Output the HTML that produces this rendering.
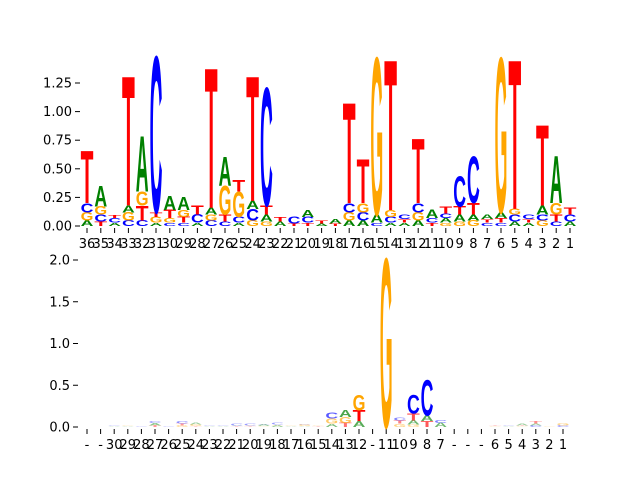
<!DOCTYPE html>
<html><head><meta charset="utf-8"><style>
html,body{margin:0;padding:0;background:#fff;}
svg{display:block;font-family:"DejaVu Sans","Liberation Sans",sans-serif;}
</style></head><body>
<svg id="chart" width="640" height="480" viewBox="0 0 640 480">
<g id="top"></g>
<g id="bot"></g>
</svg>
<script>
// Top panel data: positions and stacked letter heights (bottom->top)
const topLabels = ["36","35","34","33","32","31","30","29","28","27","26","25","24","23","22","21","20","19","18","17","16","15","14","13","12","11","10","9","8","7","6","5","4","3","2","1"];
const topStacks = [
 [["A",0.05],["G",0.07],["C",0.08],["T",0.45]],
 [["T",0.04],["C",0.06],["G",0.07],["A",0.18]],
 [["A",0.03],["C",0.04],["T",0.03]],
 [["C",0.05],["G",0.07],["A",0.06],["T",1.12]],
 [["C",0.05],["T",0.13],["G",0.12],["A",0.48]],
 [["A",0.03],["G",0.05],["T",0.04],["C",1.35]],
 [["C",0.03],["G",0.04],["T",0.07],["A",0.12]],
 [["C",0.03],["T",0.05],["G",0.06],["A",0.11]],
 [["A",0.03],["C",0.07],["T",0.08]],
 [["C",0.05],["G",0.05],["A",0.06],["T",1.21]],
 [["C",0.04],["T",0.06],["G",0.25],["A",0.25]],
 [["A",0.03],["C",0.05],["G",0.22],["T",0.10]],
 [["G",0.05],["C",0.10],["A",0.07],["T",1.08]],
 [["G",0.04],["A",0.06],["T",0.08],["C",1.02]],
 [["A",0.04],["T",0.04]],
 [["T",0.02],["C",0.06]],
 [["T",0.03],["C",0.05],["A",0.06]],
 [["A",0.02],["T",0.03]],
 [["T",0.02],["A",0.04]],
 [["A",0.05],["G",0.07],["C",0.08],["T",0.87]],
 [["A",0.05],["C",0.07],["G",0.08],["T",0.38]],
 [["C",0.03],["A",0.07],["G",1.36]],
 [["A",0.03],["C",0.05],["G",0.06],["T",1.30]],
 [["A",0.03],["T",0.03],["C",0.04]],
 [["A",0.05],["G",0.07],["C",0.08],["T",0.56]],
 [["T",0.03],["C",0.04],["A",0.07]],
 [["G",0.03],["A",0.04],["C",0.04],["T",0.06]],
 [["G",0.04],["A",0.06],["T",0.07],["C",0.26]],
 [["G",0.05],["A",0.05],["T",0.10],["C",0.40]],
 [["C",0.03],["T",0.03],["A",0.04]],
 [["C",0.03],["T",0.04],["A",0.05],["G",1.34]],
 [["A",0.04],["C",0.06],["G",0.05],["T",1.29]],
 [["A",0.03],["T",0.03],["C",0.04]],
 [["G",0.05],["C",0.05],["A",0.08],["T",0.70]],
 [["C",0.04],["T",0.06],["G",0.10],["A",0.41]],
 [["A",0.04],["C",0.06],["T",0.06]]
];
const topTicks = [0,0.25,0.5,0.75,1.0,1.25];
const topTickLabels = ["0.00","0.25","0.50","0.75","1.00","1.25"];

// Bottom panel data
const botLabels = ["-","-","30","29","28","27","26","25","24","23","22","21","20","19","18","17","16","15","14","13","12","-","11","10","9","8","7","-","-","-","6","5","4","3","2","1"];
const botStacks = [
 [],[],
 [["A",0.01],["C",0.01]],
 [["A",0.01],["G",0.01]],
 [["C",0.01]],
 [["T",0.02],["A",0.03],["C",0.02]],
 [["C",0.01]],
 [["G",0.02],["T",0.02],["C",0.03]],
 [["T",0.01],["G",0.02],["A",0.02]],
 [["A",0.01],["C",0.01]],
 [["A",0.01],["C",0.01]],
 [["T",0.01],["A",0.01],["C",0.02]],
 [["T",0.01],["G",0.01],["C",0.02]],
 [["G",0.01],["A",0.02],["C",0.01]],
 [["A",0.02],["G",0.01],["C",0.02]],
 [["A",0.01],["G",0.01]],
 [["A",0.01],["G",0.02],["C",0.01]],
 [["T",0.01],["G",0.01]],
 [["A",0.04],["G",0.06],["C",0.07]],
 [["T",0.05],["G",0.07],["A",0.08]],
 [["A",0.07],["T",0.13],["G",0.18]],
 [],
 [["G",2.0]],
 [["G",0.04],["T",0.04],["C",0.04]],
 [["G",0.03],["A",0.05],["T",0.08],["C",0.22]],
 [["T",0.07],["A",0.07],["C",0.42]],
 [["A",0.05],["C",0.04]],
 [],[],[],
 [["G",0.01],["T",0.01]],
 [["A",0.01],["C",0.01]],
 [["G",0.01],["T",0.01],["A",0.02]],
 [["C",0.02],["A",0.02],["T",0.03]],
 [["G",0.01]],
 [["C",0.02],["G",0.03]]
];
const botTicks = [0,0.5,1.0,1.5,2.0];
const botTickLabels = ["0.0","0.5","1.0","1.5","2.0"];

const COLORS = {A:"#008000",C:"#0000ff",G:"#ffa500",T:"#ff0000"};
const NS = "http://www.w3.org/2000/svg";
const CAP = 68.8;

function drawPanel(g, labels, stacks, ticks, tickLabels, cfg, prefix){
  const xs = i => cfg.x0 + i*(cfg.x1-cfg.x0)/(labels.length-1);
  const ys = v => cfg.y0 - v*cfg.ppu;
  ticks.forEach((t,i)=>{
    const ln = document.createElementNS(NS,"line");
    
    
    ln.setAttribute("x1",cfg.ax-5);ln.setAttribute("x2",cfg.ax);
    ln.setAttribute("y1",ys(t));ln.setAttribute("y2",ys(t));
    ln.setAttribute("stroke","#000");ln.setAttribute("stroke-width","1");
    g.appendChild(ln);
    const tx = document.createElementNS(NS,"text");
    
    
    tx.setAttribute("x",cfg.ax-8);tx.setAttribute("y",ys(t)+4.5);
    tx.setAttribute("text-anchor","end");tx.setAttribute("font-size","13");
    tx.textContent = tickLabels[i];
    g.appendChild(tx);
  });
  labels.forEach((lab,i)=>{
    const x = xs(i);
    const ln = document.createElementNS(NS,"line");
    
    
    ln.setAttribute("x1",x);ln.setAttribute("x2",x);
    ln.setAttribute("y1",cfg.y0+2);ln.setAttribute("y2",cfg.y0+7);
    ln.setAttribute("stroke","#000");
    g.appendChild(ln);
    const tx = document.createElementNS(NS,"text");
    
    
    tx.setAttribute("x",x);tx.setAttribute("y",cfg.y0+22);
    tx.setAttribute("text-anchor","middle");tx.setAttribute("font-size","13");
    tx.textContent = lab;
    g.appendChild(tx);
    let base = 0;
    const w = 12.8;
    (stacks[i]||[]).forEach(([L,h])=>{
      const yb = ys(base), ht = h*cfg.ppu;
      base += h;
      if(ht<=0) return;
      const t = document.createElementNS(NS,"text");
      
      
      t.setAttribute("font-family","Liberation Sans, sans-serif");
      t.setAttribute("font-weight","bold");
      t.setAttribute("font-size","100");
      t.setAttribute("x","0");t.setAttribute("y","0");
      t.setAttribute("textLength","72");
      t.setAttribute("lengthAdjust","spacingAndGlyphs");
      t.setAttribute("fill",COLORS[L]);
      if(cfg.fade && h<0.1) t.setAttribute("fill-opacity", String(0.3+ h*5));
      t.setAttribute("transform","translate("+(x-w/2)+","+yb+") scale("+(w/72)+","+(ht/CAP)+")");
      t.textContent = L;
      g.appendChild(t);
    });
  });
}
drawPanel(document.getElementById("top"), topLabels, topStacks, topTicks, topTickLabels,
  {x0:87,x1:570,y0:226,ppu:114.4,ax:80,fade:false},"top");
drawPanel(document.getElementById("bot"), botLabels, botStacks, botTicks, botTickLabels,
  {x0:87,x1:563,y0:427,ppu:83.5,ax:78,fade:true},"bottom");
</script>
</body></html>
